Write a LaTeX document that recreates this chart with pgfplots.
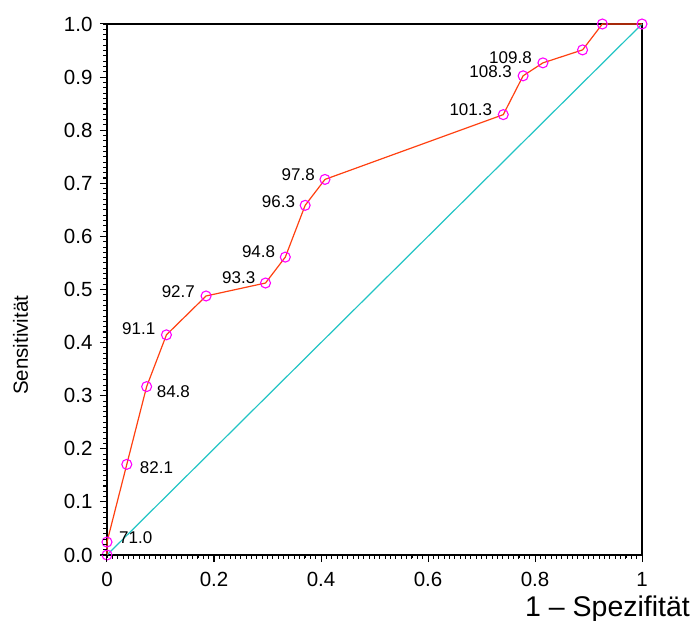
\documentclass[border=0pt]{standalone}
\usepackage{fontspec}
\setmainfont{Liberation Sans}
\usepackage{pgfplots}
\pgfplotsset{compat=1.18}

\definecolor{rocline}{HTML}{FF4010}
\definecolor{rocmark}{HTML}{FF00FF}
\definecolor{diagline}{HTML}{22C4C4}

% ROC curve: 1 - specificity, sensitivity
\pgfplotstableread{
x      y
0      0
0      0.0244
0.0370 0.1707
0.0741 0.3171
0.1111 0.4146
0.1852 0.4878
0.2963 0.5122
0.3333 0.5610
0.3704 0.6585
0.4074 0.7073
0.7407 0.8293
0.7778 0.9024
0.8148 0.9268
0.8889 0.9512
0.9259 1
1      1
}\roc

\begin{document}
\begin{tikzpicture}
\useasboundingbox (-107pt,-66pt) rectangle (584pt,555pt);
\begin{axis}[
  name=roc,
  scale only axis,
  width=535pt, height=531pt,
  xmin=0, xmax=1, ymin=0, ymax=1,
  clip=false,
  axis line style={black, line width=1.3pt},
  xtick={0,0.2,0.4,0.6,0.8,1},
  ytick={0,0.1,0.2,0.3,0.4,0.5,0.6,0.7,0.8,0.9,1},
  minor x tick num=19,
  minor y tick num=9,
  xtick pos=left, ytick pos=left,
  tick align=outside,
  major tick length=7pt,
  minor tick length=3.5pt,
  tick style={black, line width=1pt},
  ticklabel style={font=\fontsize{20.5}{20.5}\selectfont},
  xticklabel style={/pgf/number format/.cd, assume math mode=true, /tikz/.cd, yshift=-7pt},
  yticklabel style={/pgf/number format/.cd, fixed, fixed zerofill, precision=1, assume math mode=true, /tikz/.cd},
  every y tick label/.append style={xshift=-4pt},
  xlabel={1 – Spezifität},
  ylabel={Sensitivität},
  xlabel style={at={(axis description cs:1.090,-0.115)}, anchor=base east, inner sep=0pt, font=\fontsize{28.5}{28.5}\selectfont},
  ylabel style={at={(axis description cs:-0.148,0.395)}, anchor=base, inner sep=0pt, font=\fontsize{20.5}{20.5}\selectfont},
]
\addplot[diagline, line width=1.2pt] coordinates {(0,0) (1,1)};
\addplot[rocline, line width=1.2pt, mark=o, mark size=5pt,
  mark options={rocmark, line width=1.1pt}] table {\roc};

\begin{scope}[every node/.style={font=\fontsize{17}{17}\selectfont, inner sep=0pt}]
\node[anchor=west] at (axis cs:0,0.0244) [xshift=12pt, yshift=4pt] {71.0};
\node[anchor=west] at (axis cs:0.0370,0.1707) [xshift=13pt, yshift=-3pt] {82.1};
\node[anchor=west] at (axis cs:0.0741,0.3171) [xshift=10pt, yshift=-5pt] {84.8};
\node[anchor=east] at (axis cs:0.1111,0.4146) [xshift=-11pt, yshift=6pt] {91.1};
\node[anchor=east] at (axis cs:0.1852,0.4878) [xshift=-11pt, yshift=4pt] {92.7};
\node[anchor=east] at (axis cs:0.2963,0.5122) [xshift=-10pt, yshift=5pt] {93.3};
\node[anchor=east] at (axis cs:0.3333,0.5610) [xshift=-10pt, yshift=5pt] {94.8};
\node[anchor=east] at (axis cs:0.3704,0.6585) [xshift=-10pt, yshift=4pt] {96.3};
\node[anchor=east] at (axis cs:0.4074,0.7073) [xshift=-10pt, yshift=5pt] {97.8};
\node[anchor=east] at (axis cs:0.7407,0.8293) [xshift=-11pt, yshift=5pt] {101.3};
\node[anchor=east] at (axis cs:0.7778,0.9024) [xshift=-11pt, yshift=4pt] {108.3};
\node[anchor=east] at (axis cs:0.8148,0.9268) [xshift=-11pt, yshift=5pt] {109.8};
\end{scope}
\end{axis}
% tick comb along the bottom and left axis lines (0.01 steps, longer every 0.2 / 0.1)
\begin{scope}[black, line width=0.9pt]
\foreach \i in {0,...,100} {
  \draw ({\i*5.35pt},0pt) -- ({\i*5.35pt},-3.5pt);
  \draw (0pt,{\i*5.31pt}) -- (-3.5pt,{\i*5.31pt});
}
\foreach \i in {0,20,...,100}
  \draw[line width=1pt] ({\i*5.35pt},0pt) -- ({\i*5.35pt},-7pt);
\foreach \i in {0,10,...,100}
  \draw[line width=1pt] (0pt,{\i*5.31pt}) -- (-7pt,{\i*5.31pt});
\end{scope}
\end{tikzpicture}
\end{document}
